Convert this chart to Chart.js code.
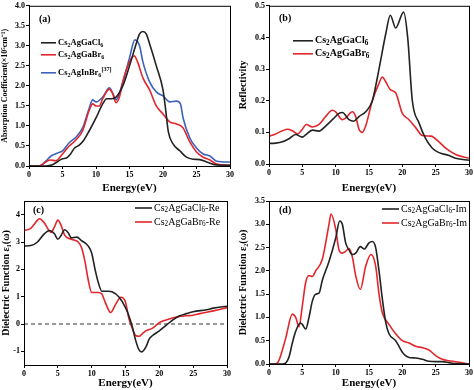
<!DOCTYPE html>
<html lang="en">
<head>
  <meta charset="UTF-8" />
  <title>Optical properties</title>
  <style>
    * { box-sizing: border-box; margin: 0; padding: 0; }
    body { background: #fff; width: 474px; height: 390px; position: relative; overflow: hidden; }
    canvas { position: absolute; }
  </style>
</head>
<body>
  <canvas id="chartA" width="237" height="195" style="left:0;top:0"></canvas>
  <canvas id="chartB" width="237" height="195" style="left:237px;top:0"></canvas>
  <canvas id="chartC" width="237" height="195" style="left:0;top:195px"></canvas>
  <canvas id="chartD" width="237" height="195" style="left:237px;top:195px"></canvas>

  <script src="https://cdn.jsdelivr.net/npm/chart.js"></script>
  <script>
// (a) absorption coefficient
const aClE = [0, 2.5, 3.5, 4, 5, 5.6, 6.2, 6.8, 7.5, 8.2, 9, 10, 11, 11.6, 12.3, 13, 14, 15, 16, 16.5, 17, 17.5, 18, 19, 20, 20.4, 20.8, 21.5, 22.5, 23.5, 24.5, 25.5, 26.5, 27.5, 28.5, 30];
const aClV = [0, 0, 0.03, 0.08, 0.18, 0.2, 0.3, 0.45, 0.52, 0.65, 0.88, 1.2, 1.55, 1.68, 1.68, 1.72, 2.0, 2.5, 3.05, 3.3, 3.36, 3.3, 3.05, 2.5, 1.9, 1.4, 0.85, 0.55, 0.38, 0.22, 0.17, 0.16, 0.1, 0.04, 0.02, 0.02];
const aBrE = [0, 1.5, 2.5, 3.2, 4, 5, 6, 7, 8, 9, 9.5, 10, 10.5, 11, 12, 12.5, 13, 13.5, 14, 15, 15.7, 16.2, 17, 18, 19, 20, 21, 22, 23, 24, 25, 26, 27, 28, 30];
const aBrV = [0, 0, 0.1, 0.15, 0.13, 0.3, 0.5, 0.65, 0.88, 1.4, 1.55, 1.5, 1.5, 1.68, 1.92, 1.8, 1.58, 1.72, 2.1, 2.6, 2.75, 2.6, 2.2, 1.9, 1.5, 1.3, 1.1, 1.05, 0.95, 0.6, 0.35, 0.22, 0.15, 0.05, 0.02];
const aInE = [0, 1.5, 2.5, 3.3, 4.2, 5, 6, 7, 8, 9, 9.5, 10, 11, 12, 12.5, 13, 14, 15, 15.8, 16.5, 17, 18, 19, 20, 21, 22, 22.6, 23, 24, 25, 26, 27, 28, 30];
const aInV = [0, 0, 0.12, 0.25, 0.32, 0.38, 0.58, 0.72, 0.95, 1.45, 1.65, 1.6, 1.72, 1.95, 1.82, 1.65, 2.1, 2.7, 3.15, 3.0, 2.6, 2.1, 1.85, 1.75, 1.6, 1.62, 1.55, 1.2, 0.7, 0.45, 0.3, 0.25, 0.12, 0.1];

// (b) reflectivity
const bClE = [0, 1, 2, 3, 4, 5, 5.5, 6.5, 7.5, 8.5, 9.5, 10.5, 11, 12, 12.7, 13.5, 14.5, 15.5, 16.5, 17.5, 18.2, 19, 20.2, 20.8, 21.5, 22.5, 23.5, 24.5, 25.5, 27, 28, 30];
const bClV = [0.065, 0.066, 0.07, 0.08, 0.093, 0.085, 0.092, 0.107, 0.104, 0.12, 0.14, 0.16, 0.163, 0.14, 0.135, 0.15, 0.165, 0.2, 0.3, 0.41, 0.47, 0.43, 0.48, 0.4, 0.2, 0.13, 0.08, 0.05, 0.036, 0.027, 0.018, 0.012];
const bBrE = [0, 1, 2, 2.8, 3.5, 4.3, 5, 5.6, 6.5, 7.5, 8.5, 9.5, 10, 11, 11.5, 12.5, 13, 13.5, 14, 14.5, 15.5, 16.5, 17, 17.5, 18.2, 19, 20, 21, 22, 23, 24.3, 25.5, 26.5, 28, 30];
const bBrV = [0.088, 0.095, 0.105, 0.11, 0.105, 0.095, 0.11, 0.125, 0.117, 0.125, 0.15, 0.17, 0.165, 0.14, 0.145, 0.165, 0.15, 0.11, 0.1, 0.12, 0.2, 0.255, 0.275, 0.26, 0.235, 0.225, 0.16, 0.14, 0.115, 0.09, 0.088, 0.07, 0.05, 0.03, 0.018];

// (c) dielectric function, real part
const cClE = [0, 1, 2, 3, 3.8, 4.5, 5, 5.5, 6, 6.5, 7, 7.8, 8.5, 9.5, 10, 10.5, 11, 11.5, 12.5, 13, 14, 15, 15.5, 16, 16.5, 17, 17.4, 18, 18.5, 19, 20, 21, 22, 23, 24, 25, 27, 28, 30];
const cClV = [2.85, 2.87, 3.0, 3.3, 3.42, 3.3, 3.1, 3.25, 3.45, 3.35, 3.15, 3.18, 3.05, 2.85, 2.6, 2.0, 1.5, 1.2, 1.2, 1.18, 1.0, 0.6, 0.3, -0.1, -0.6, -0.95, -1.02, -0.85, -0.55, -0.42, -0.25, -0.05, 0.15, 0.3, 0.38, 0.45, 0.52, 0.58, 0.65];
const cBrE = [0, 1, 2, 2.3, 3, 4, 4.5, 5, 5.5, 6, 7, 8, 8.5, 9, 9.5, 10, 11, 11.5, 12, 12.8, 13.5, 14.3, 15, 15.5, 16, 16.5, 17, 17.5, 18, 19, 20, 21, 22, 23, 24, 25, 26, 28, 30];
const cBrV = [3.42, 3.5, 3.8, 3.85, 3.7, 3.35, 3.55, 3.8, 3.6, 3.25, 3.1, 3.0, 2.8, 2.3, 1.6, 1.15, 1.15, 1.1, 0.8, 0.42, 0.7, 0.98, 0.8, 0.2, -0.15, -0.42, -0.45, -0.35, -0.25, -0.15, 0.05, 0.15, 0.22, 0.28, 0.3, 0.32, 0.38, 0.48, 0.6];
const zeroE = [0, 30];
const zeroV = [0, 0];

// (d) dielectric function, imaginary part
const dClE = [0, 2, 2.5, 3, 3.5, 4, 4.7, 5, 5.5, 6, 6.5, 7, 7.5, 8, 9, 10, 10.6, 11, 11.5, 12, 12.5, 13, 13.7, 14.3, 15, 15.5, 16, 16.5, 17, 17.5, 18, 19, 19.5, 20, 21, 22, 23, 24, 25, 26, 27, 28, 30];
const dClV = [0, 0, 0.02, 0.15, 0.45, 0.7, 0.88, 0.85, 0.75, 1.0, 1.35, 1.5, 1.52, 1.8, 2.2, 2.7, 3.07, 3.0, 2.6, 2.45, 2.35, 2.38, 2.52, 2.47, 2.6, 2.63, 2.5, 2.0, 1.4, 0.9, 0.65, 0.5, 0.38, 0.25, 0.14, 0.13, 0.1, 0.06, 0.05, 0.05, 0.03, 0.01, 0];
const dBrE = [0, 1, 1.5, 2.5, 3.5, 4, 4.5, 5, 5.5, 6, 6.5, 7, 8, 9, 9.3, 10, 10.5, 11, 11.5, 12, 12.5, 13, 13.7, 14.5, 15.3, 16, 16.5, 17, 18, 19, 20, 21, 22, 23, 24, 25, 26, 27, 28, 30];
const dBrV = [0, 0, 0.08, 0.55, 1.07, 1.0, 0.8, 1.25, 1.75, 1.9, 1.88, 2.0, 2.25, 3.0, 3.22, 2.9, 2.45, 2.38, 2.42, 2.48, 2.3, 1.9, 1.6, 2.1, 2.35, 2.1, 1.5, 1.1, 0.85, 0.65, 0.5, 0.45, 0.38, 0.35, 0.3, 0.18, 0.1, 0.07, 0.05, 0];

const BLACK = '#222222';
const RED = '#e3262b';
const BLUE = '#3d62bd';
const SERIF = '"Liberation Serif", "Times New Roman", serif';

const pts = (xs, ys) => xs.map((x, i) => ({ x, y: ys[i] }));

// draw text with _x subscripts and ^x superscripts, e.g. "Cs_2AgGaCl_6"
function richText(ctx, str, x, y, size, weight) {
  const re = /([_^])\{([^}]*)\}|([_^])(.)|([^_^]+)/g;
  let m;
  ctx.textBaseline = 'middle';
  ctx.textAlign = 'left';
  while ((m = re.exec(str))) {
    const mark = m[1] || m[3];
    const txt = m[2] || m[4] || m[5];
    let fs = size, dy = 0;
    if (mark === '_') { fs = size * 0.72; dy = size * 0.25; }
    if (mark === '^') { fs = size * 0.72; dy = -size * 0.35; }
    ctx.font = `${weight} ${fs}px ${SERIF}`;
    ctx.fillText(txt, x, y + dy);
    x += ctx.measureText(txt).width;
  }
}

const frame = {
  id: 'frame',
  afterDraw(chart, args, opts) {
    const { ctx, chartArea: a } = chart;
    ctx.save();
    ctx.strokeStyle = '#000';
    ctx.lineWidth = 1;
    ctx.strokeRect(a.left + 0.5, a.top + 0.5, a.right - a.left, a.bottom - a.top);
    ctx.fillStyle = '#000';
    richText(ctx, opts.label, a.left + opts.labelX, a.top + opts.labelY, 10, 'bold');
    opts.items.forEach((it, i) => {
      const y = a.top + opts.y + i * opts.gap[i];
      ctx.strokeStyle = it.color;
      ctx.lineWidth = 1.6;
      ctx.beginPath();
      ctx.moveTo(a.left + opts.x, y);
      ctx.lineTo(a.left + opts.x + opts.len, y);
      ctx.stroke();
      ctx.fillStyle = '#000';
      richText(ctx, it.text, a.left + opts.x + opts.len + 2, y, opts.size, opts.weight);
    });
    ctx.restore();
  }
};

function makeChart(id, series, cfg) {
  const tickFont = { family: SERIF, size: 8, weight: 'bold' };
  return new Chart(document.getElementById(id), {
    type: 'line',
    data: {
      datasets: series.map(s => ({
        data: s.data,
        borderColor: s.color,
        borderWidth: s.width || 1.6,
        borderDash: s.dash || [],
        pointRadius: 0,
        tension: s.dash ? 0 : 0.4,
        cubicInterpolationMode: 'monotone',
        fill: false
      }))
    },
    options: {
      responsive: false,
      animation: false,
      layout: { padding: cfg.padding },
      plugins: {
        legend: { display: false },
        tooltip: { enabled: false },
        frame: cfg.legend
      },
      scales: {
        x: {
          type: 'linear',
          min: 0, max: 30,
          ticks: { stepSize: 5, color: '#000', font: tickFont, padding: 1, maxRotation: 0 },
          grid: { drawOnChartArea: false, tickLength: 3, color: '#000' },
          border: { color: '#000' },
          title: { display: true, text: 'Energy(eV)', color: '#000', font: { family: SERIF, size: 11, weight: 'bold' }, padding: { top: 0, bottom: 0 } },
          afterFit: s => { s.height = cfg.xh; }
        },
        y: {
          type: 'linear',
          min: cfg.ymin, max: cfg.ymax,
          afterBuildTicks: s => { s.ticks = cfg.yticks.map(v => ({ value: v })); },
          ticks: { color: '#000', font: tickFont, padding: 1, callback: cfg.yfmt },
          grid: { drawOnChartArea: false, tickLength: 3, color: '#000' },
          border: { color: '#000' },
          title: { display: true, text: cfg.ytitle, color: '#000', font: { family: SERIF, size: cfg.ytsize, weight: 'bold' }, padding: { top: 0, bottom: 1 } },
          afterFit: s => { s.width = cfg.yw; }
        }
      }
    },
    plugins: [frame]
  });
}

const fix1 = v => v.toFixed(1);

makeChart('chartA', [
  { data: pts(aClE, aClV), color: BLACK },
  { data: pts(aBrE, aBrV), color: RED },
  { data: pts(aInE, aInV), color: BLUE }
], {
  padding: { left: 0, top: 4, right: 7, bottom: 0 },
  xh: 29, yw: 29, ymin: 0, ymax: 4,
  yticks: [0, 0.5, 1, 1.5, 2, 2.5, 3, 3.5, 4], yfmt: fix1,
  ytitle: 'Absorption Coefficient(×10⁵cm⁻¹)', ytsize: 8,
  legend: {
    label: '(a)', labelX: 10, labelY: 14,
    x: 12, y: 37, len: 15, gap: [0, 12, 15], size: 8.5, weight: 'bold',
    items: [
      { color: BLACK, text: 'Cs_2AgGaCl_6' },
      { color: RED, text: 'Cs_2AgGaBr_6' },
      { color: BLUE, text: 'Cs_2AgInBr_6^{[37]}' }
    ]
  }
});

makeChart('chartB', [
  { data: pts(bClE, bClV), color: BLACK },
  { data: pts(bBrE, bBrV), color: RED }
], {
  padding: { left: 0, top: 4, right: 5, bottom: 0 },
  xh: 31, yw: 32, ymin: 0, ymax: 0.5,
  yticks: [0, 0.1, 0.2, 0.3, 0.4, 0.5], yfmt: fix1,
  ytitle: 'Reflectivity', ytsize: 10,
  legend: {
    label: '(b)', labelX: 10, labelY: 13,
    x: 24, y: 35, len: 20, gap: [0, 13], size: 10, weight: 'bold',
    items: [
      { color: BLACK, text: 'Cs_2AgGaCl_6' },
      { color: RED, text: 'Cs_2AgGaBr_6' }
    ]
  }
});

makeChart('chartC', [
  { data: pts(cClE, cClV), color: BLACK },
  { data: pts(cBrE, cBrV), color: RED },
  { data: pts(zeroE, zeroV), color: '#333', dash: [4, 3], width: 1 }
], {
  padding: { left: 0, top: 6, right: 10, bottom: 0 },
  xh: 25, yw: 24, ymin: -1.5, ymax: 4.5,
  yticks: [-1, 0, 1, 2, 3, 4], yfmt: v => String(v),
  ytitle: 'Dielectric Function ε₁(ω)', ytsize: 10,
  legend: {
    label: '(c)', labelX: 9, labelY: 9,
    x: 111, y: 7, len: 17, gap: [0, 14], size: 10, weight: 'normal',
    items: [
      { color: BLACK, text: 'Cs_2AgGaCl_6-Re' },
      { color: RED, text: 'Cs_2AgGaBr_6-Re' }
    ]
  }
});

makeChart('chartD', [
  { data: pts(dClE, dClV), color: BLACK },
  { data: pts(dBrE, dBrV), color: RED }
], {
  padding: { left: 0, top: 6, right: 5, bottom: 0 },
  xh: 26, yw: 32, ymin: 0, ymax: 3.5,
  yticks: [0, 0.5, 1, 1.5, 2, 2.5, 3, 3.5], yfmt: fix1,
  ytitle: 'Dielectric Function ε₂(ω)', ytsize: 10,
  legend: {
    label: '(d)', labelX: 10, labelY: 9,
    x: 113, y: 8, len: 17, gap: [0, 14], size: 10, weight: 'normal',
    items: [
      { color: BLACK, text: 'Cs_2AgGaCl_6-Im' },
      { color: RED, text: 'Cs_2AgGaBr_6-Im' }
    ]
  }
});
  </script>
</body>
</html>
